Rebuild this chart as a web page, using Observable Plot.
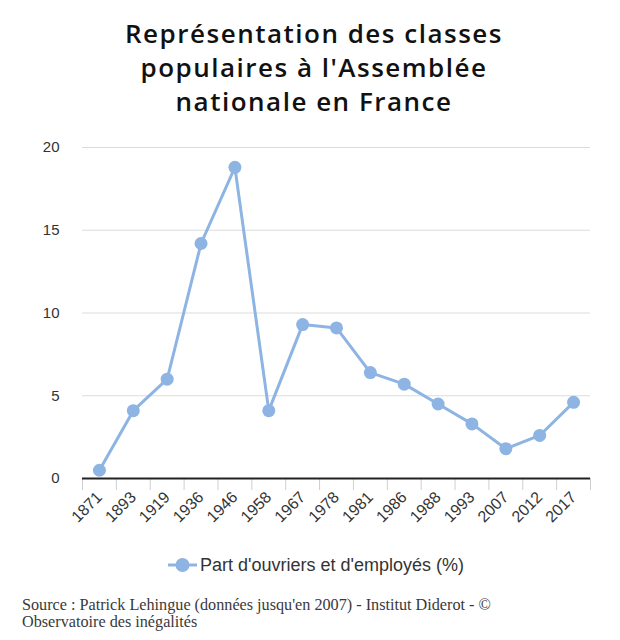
<!DOCTYPE html>
<html>
<head>
<meta charset="utf-8">
<script src="https://cdn.jsdelivr.net/npm/d3@7"></script>
<script src="https://cdn.jsdelivr.net/npm/@observablehq/plot@0.6"></script>
<style>
  html, body { margin: 0; padding: 0; background: #ffffff; }
  #page { position: relative; width: 620px; height: 640px; overflow: hidden; background: #fff; }
  #title { position: absolute; top: 16px; left: 4px; width: 620px; text-align: center;
    font-family: "Open Sans", "Noto Sans", sans-serif; font-weight: 600; font-size: 26px; letter-spacing: 1.5px;
    line-height: 34px; color: #111; }
  #chart { position: absolute; top: 130px; left: 0; }
  #legend { position: absolute; top: 553px; left: 6px; width: 620px; text-align: center;
    font-family: "Liberation Sans", Arial, sans-serif; font-size: 18px; color: #333; line-height: 24px; }
  #legend svg { vertical-align: -2px; margin-right: 3px; }
  #caption { position: absolute; top: 597px; left: 22px; width: 590px;
    font-family: "Liberation Serif", "Times New Roman", serif; font-size: 16.2px; line-height: 17px; color: #3a3a3a; }
</style>
</head>
<body>
<div id="page">
  <div id="title">Représentation des classes<br>populaires à l'Assemblée<br>nationale en France</div>
  <div id="chart"></div>
  <div id="legend"><svg width="29" height="16"><line x1="0" y1="8" x2="29" y2="8" stroke="#8db4e2" stroke-width="3"/><circle cx="14.5" cy="8" r="7" fill="#8db4e2"/></svg>Part d'ouvriers et d'employés (%)</div>
  <div id="caption">Source : Patrick Lehingue (données jusqu'en 2007) - Institut Diderot - ©<br>Observatoire des inégalités</div>
</div>
<script>
const years = ["1871","1893","1919","1936","1946","1958","1967","1978","1981","1986","1988","1993","2007","2012","2017"];
const shares = [0.5, 4.1, 6.0, 14.2, 18.8, 4.1, 9.3, 9.1, 6.4, 5.7, 4.5, 3.3, 1.8, 2.6, 4.6];
const yTicks = [0, 5, 10, 15, 20];
const gridTicks = [5, 10, 15, 20];

const data = years.map((year, i) => ({i, year, value: shares[i]}));
const color = "#8db4e2";

const chart = Plot.plot({
  width: 620,
  height: 410,
  marginTop: 17,
  marginBottom: 62,
  marginLeft: 82,
  marginRight: 30,
  style: {fontFamily: "'Liberation Sans', Arial, sans-serif", fontSize: "15px", color: "#333", background: "transparent"},
  x: {type: "linear", domain: [-0.5, years.length - 0.5]},
  y: {domain: [0, 20]},
  marks: [
    Plot.gridY(gridTicks, {stroke: "#dcdcdc", strokeOpacity: 1, strokeWidth: 1}),
    Plot.axisY(yTicks, {tickSize: 0, tickPadding: 23, fontSize: 15, fill: "#333", label: null}),
    Plot.axisX(d3.range(years.length + 1).map(k => k - 0.5), {tickSize: 12, stroke: "#cfcfcf", tickFormat: () => "", label: null}),
    Plot.axisX(d3.range(years.length), {tickSize: 0, tickPadding: 16, tickRotate: -45, tickFormat: k => years[k], fontSize: 16, fill: "#333", label: null}),
    Plot.ruleY([0], {stroke: "#222", strokeWidth: 2}),
    Plot.line(data, {x: "i", y: "value", stroke: color, strokeWidth: 3}),
    Plot.dot(data, {x: "i", y: "value", r: 6.5, fill: color, stroke: "none"})
  ]
});
document.getElementById("chart").appendChild(chart);
</script>
</body>
</html>
